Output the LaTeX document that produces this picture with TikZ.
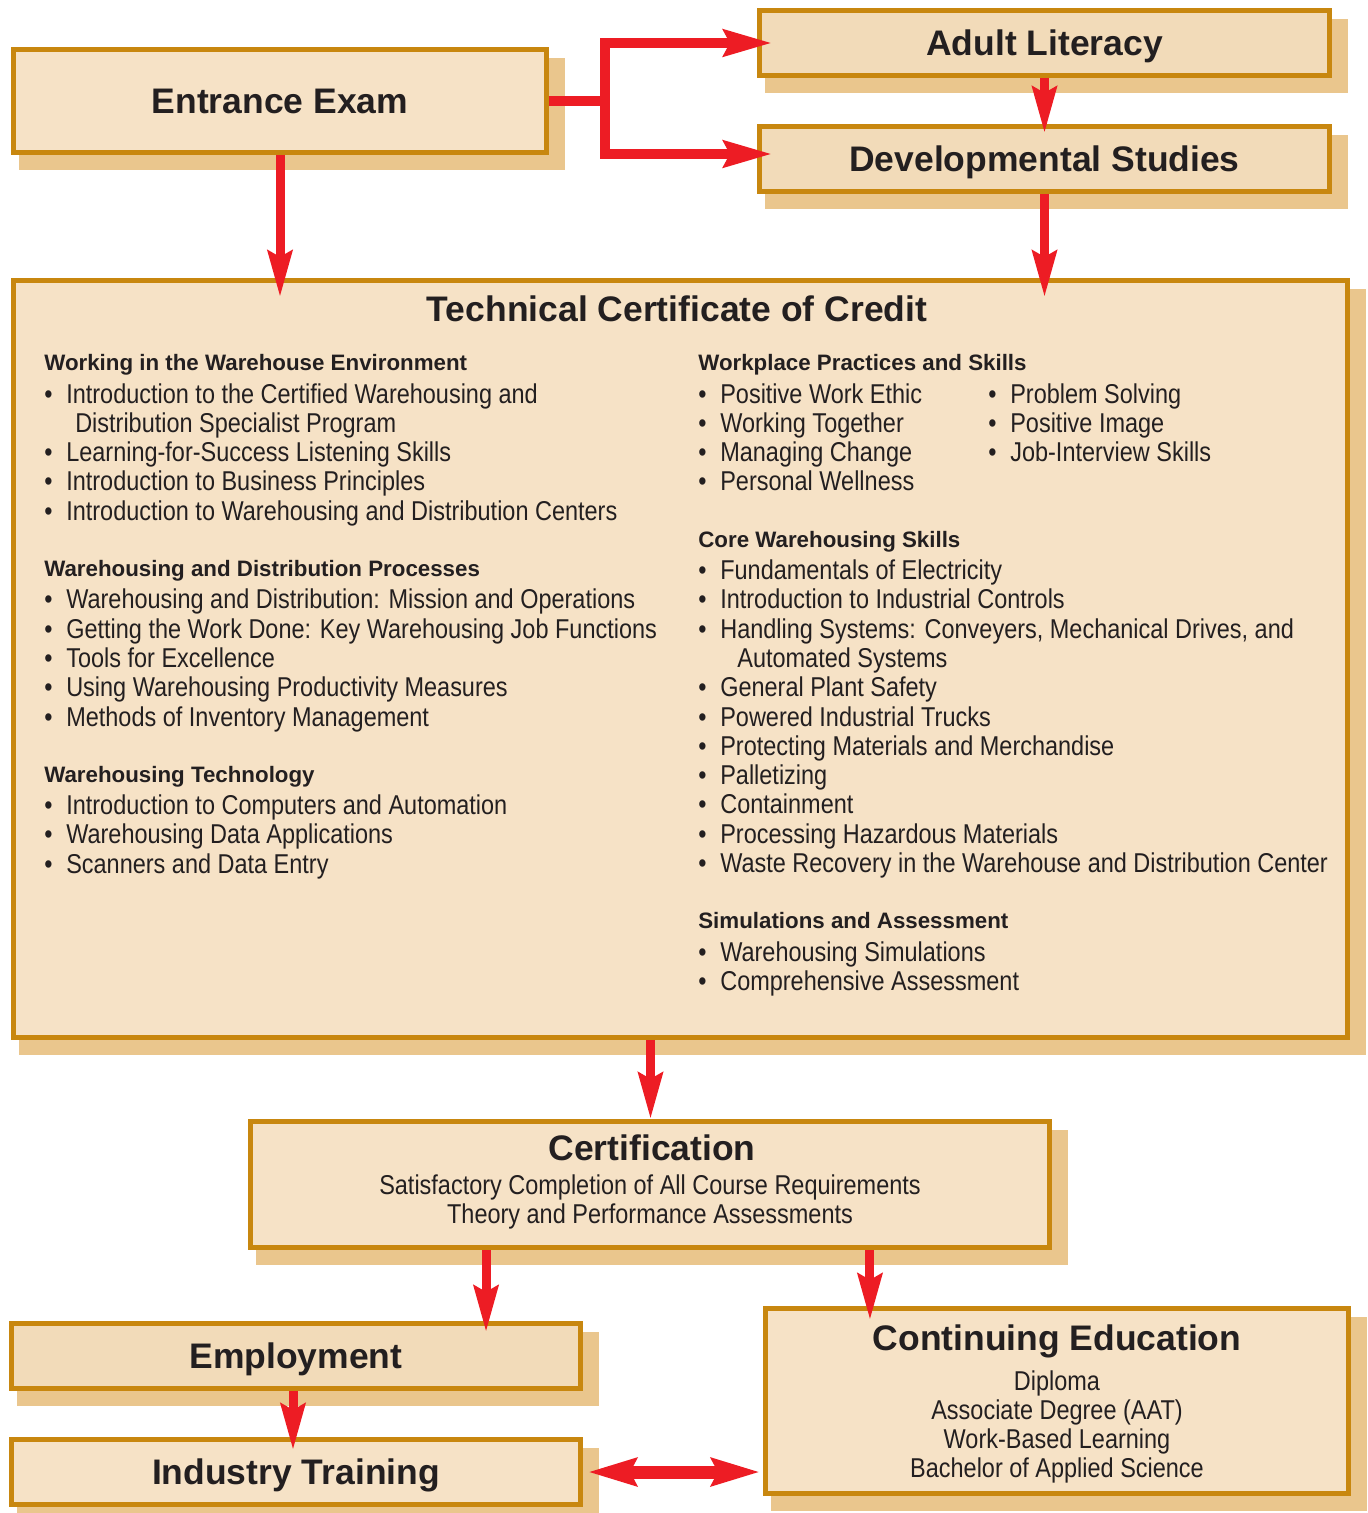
\documentclass[tikz,border=0pt]{standalone}
\usepackage{fontspec}
\setmainfont{Liberation Sans}[FakeStretch=0.862]
\newfontfamily\boldsans{Liberation Sans}
\usetikzlibrary{arrows.meta,backgrounds}

\definecolor{boxfill}{HTML}{F6E2C6}
\definecolor{boxfilldark}{HTML}{F2DBB9}
\definecolor{boxline}{HTML}{C8870F}
\definecolor{boxshade}{HTML}{EAC68D}
\definecolor{flowred}{HTML}{ED1C24}
\definecolor{inkdark}{HTML}{231F20}

\newcommand{\hd}[1]{{\boldsans\bfseries\fontsize{12.7}{16.67}\selectfont #1}}
\newcommand{\itm}{\makebox[12.5pt][l]{\textbullet}}
\newcommand{\listfont}{\fontsize{15.5}{16.67}\selectfont}
\newcommand{\titlefont}{\boldsans\bfseries\fontsize{20.2}{24}\selectfont}

\begin{document}
\begin{tikzpicture}[x=0.02cm,y=-0.02cm,
    every node/.append style={text=inkdark,inner sep=0pt},
    box/.style={draw=boxline,line width=0.1cm,fill=boxfill,font=\titlefont,text height=14.5pt,text depth=0pt},
    darkbox/.style={box,fill=boxfilldark},
    title/.style={font=\titlefont},
    body/.style={font=\listfont},
    flow/.style={draw=flowred,line width=0.18cm,-{Stealth[length=0.92cm,width=0.48cm,inset=0.12cm]}},
    bigflow/.style={flow,line width=0.2cm,-{Stealth[length=0.96cm,width=0.52cm,inset=0.12cm]}}]
  \useasboundingbox (0,0) rectangle (1367,1513);

  % boxes
  \node[box,minimum width=10.66cm,minimum height=2.06cm] (exam) at (280,101) {Entrance Exam};
  \node[darkbox,minimum width=11.4cm,minimum height=1.3cm] (literacy) at (1044.5,43) {Adult Literacy};
  \node[darkbox,minimum width=11.4cm,minimum height=1.3cm] (devstudies) at (1044.5,159) {Developmental Studies};
  \node[box,minimum width=26.68cm,minimum height=15.14cm] (tcc) at (680.5,659) {};
  \node[box,minimum width=15.98cm,minimum height=2.52cm] (cert) at (650,1184.5) {};
  \node[darkbox,minimum width=11.38cm,minimum height=1.3cm] (employ) at (296,1356) {Employment};
  \node[box,minimum width=11.38cm,minimum height=1.3cm] (training) at (296,1472) {Industry Training};
  \node[box,minimum width=11.66cm,minimum height=3.7cm] (conted) at (1057,1401) {};

  \begin{scope}[on background layer]
    \foreach \b in {exam,literacy,devstudies,tcc,cert,employ,training,conted}
      \fill[boxshade] ([shift={(8,11)}]\b.north west) rectangle ([shift={(16,15)}]\b.south east);
  \end{scope}

  % technical certificate
  \node[title,anchor=base] (tcctitle) at (677,322) {Technical Certificate of Credit};
  \node[body,anchor=base west] (leftlist) at (44,371) {\begin{tabular}[t]{@{}l@{}}
    \hd{Working in the Warehouse Environment}\\[1.6pt]
    \itm Introduction to the Certified Warehousing and\\
    \hspace{17.6pt}Distribution Specialist Program\\
    \itm Learning-for-Success Listening Skills\\
    \itm Introduction to Business Principles\\
    \itm Introduction to Warehousing and Distribution Centers\\[15.5pt]
    \hd{Warehousing and Distribution Processes}\\[1.6pt]
    \itm Warehousing and Distribution: Mission and Operations\\
    \itm Getting the Work Done: Key Warehousing Job Functions\\
    \itm Tools for Excellence\\
    \itm Using Warehousing Productivity Measures\\
    \itm Methods of Inventory Management\\[15.5pt]
    \hd{Warehousing Technology}\\[1.6pt]
    \itm Introduction to Computers and Automation\\
    \itm Warehousing Data Applications\\
    \itm Scanners and Data Entry
  \end{tabular}};
  \node[body,anchor=base west] (rightlist) at (698,371) {\begin{tabular}[t]{@{}l@{}}
    \hd{Workplace Practices and Skills}\\[1.6pt]
    \itm Positive Work Ethic\\
    \itm Working Together\\
    \itm Managing Change\\
    \itm Personal Wellness\\[15.5pt]
    \hd{Core Warehousing Skills}\\[1.6pt]
    \itm Fundamentals of Electricity\\
    \itm Introduction to Industrial Controls\\
    \itm Handling Systems: Conveyers, Mechanical Drives, and\\
    \hspace{22.2pt}Automated Systems\\
    \itm General Plant Safety\\
    \itm Powered Industrial Trucks\\
    \itm Protecting Materials and Merchandise\\
    \itm Palletizing\\
    \itm Containment\\
    \itm Processing Hazardous Materials\\
    \itm Waste Recovery in the Warehouse and Distribution Center\\[15.5pt]
    \hd{Simulations and Assessment}\\[1.6pt]
    \itm Warehousing Simulations\\
    \itm Comprehensive Assessment
  \end{tabular}};
  \node[body,anchor=base west] (skilllist) at (988,403) {\begin{tabular}[t]{@{}l@{}}
    \itm Problem Solving\\
    \itm Positive Image\\
    \itm Job-Interview Skills
  \end{tabular}};

  % certification and continuing education
  \node[title,anchor=base] (certtitle) at (652,1160) {Certification};
  \node[body,anchor=base] (certlist) at (650,1194) {\begin{tabular}[t]{@{}c@{}}
    Satisfactory Completion of All Course Requirements\\
    Theory and Performance Assessments
  \end{tabular}};
  \node[title,anchor=base] (contedtitle) at (1057,1350) {Continuing Education};
  \node[body,anchor=base] (contedlist) at (1057,1390) {\begin{tabular}[t]{@{}c@{}}
    Diploma\\
    Associate Degree (AAT)\\
    Work-Based Learning\\
    Bachelor of Applied Science
  \end{tabular}};

  % arrows
  \draw[bigflow] (exam.east) -- ++(56,0) |- ([xshift=0.3cm]literacy.west);
  \draw[bigflow] (exam.east) -- ++(56,0) |- ([xshift=0.3cm,yshift=0.1cm]devstudies.west);
  \draw[flow] (literacy.south) -- ([yshift=-0.18cm]devstudies.north);
  \draw[flow,shorten >=-0.38cm] (exam.south) -- (exam.south |- tcc.north);
  \draw[flow,shorten >=-0.38cm] (devstudies.south) -- (devstudies.south |- tcc.north);
  \draw[flow] ([xshift=-0.6cm]tcc.south) -- ([xshift=-0.6cm]tcc.south |- cert.north);
  \draw[flow,shorten >=-0.22cm] ([xshift=-3.28cm]cert.south) -- ([xshift=-3.28cm]cert.south |- employ.north);
  \draw[flow,shorten >=-0.28cm] ([xshift=4.4cm]cert.south) -- ([xshift=4.4cm]cert.south |- conted.north);
  \draw[flow,shorten >=-0.26cm] ([xshift=-0.06cm]employ.south) -- ([xshift=-0.06cm]training.north);
  \draw[draw=flowred,line width=0.26cm,{Stealth[length=0.96cm,width=0.54cm,inset=0.12cm]}-{Stealth[length=0.96cm,width=0.54cm,inset=0.12cm]},shorten <=0.1cm,shorten >=0.06cm]
    (training.east) -- (conted.west |- training.east);
\end{tikzpicture}
\end{document}
